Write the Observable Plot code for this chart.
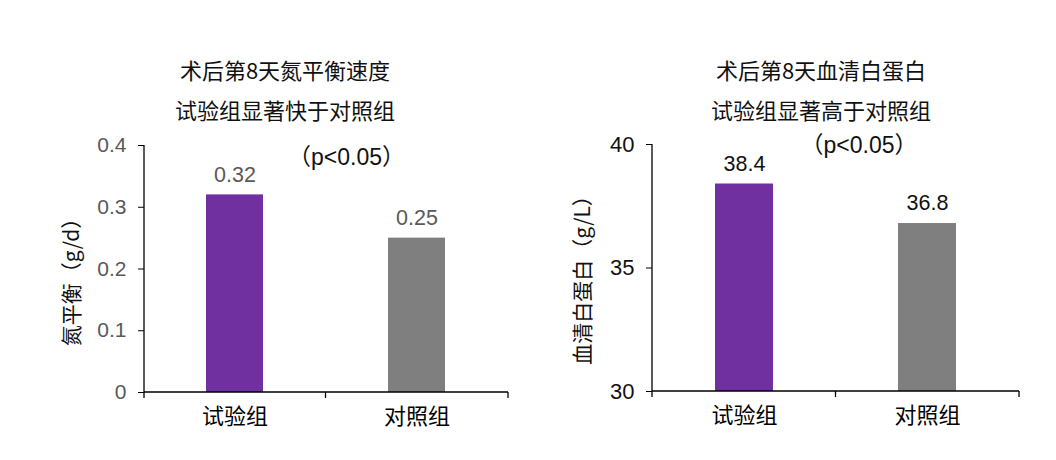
<!DOCTYPE html>
<html><head><meta charset="utf-8">
<script src="https://cdn.jsdelivr.net/npm/d3@7"></script>
<script src="https://cdn.jsdelivr.net/npm/@observablehq/plot@0.6"></script>
<style>
body{margin:0;background:#fff;font-family:"Liberation Sans","Noto Sans CJK SC",sans-serif;}
#wrap{position:relative;width:1056px;height:460px;overflow:hidden;background:#fff}
.panel{position:absolute;top:0;width:528px;height:460px}
.t{position:absolute;width:400px;text-align:center;font-size:22px;color:#111;line-height:1;transform:translateY(-50%);white-space:nowrap;font-family:"Noto Sans CJK SC","Liberation Sans",sans-serif;font-weight:400}
.chart{position:absolute;left:0;top:130px}
</style></head><body>
<div id="wrap"></div>
<script>
// ---- data ----
const groups = ["试验组", "对照组"];
const barColors = ["#7030A0", "#7F7F7F"];

const nitrogenTitle = ["术后第8天氮平衡速度", "试验组显著快于对照组"];
const nitrogenLabel = "氮平衡（g/d）";
const nitrogenValues = [0.32, 0.25];
const nitrogenTicks = [0, 0.1, 0.2, 0.3, 0.4];

const albuminTitle = ["术后第8天血清白蛋白", "试验组显著高于对照组"];
const albuminLabel = "血清白蛋白（g/L）";
const albuminValues = [38.4, 36.8];
const albuminTicks = [30, 35, 40];

const pNote = "（p<0.05）";

// ---- helpers ----
function axisLines() {
  return (index, scales, values, dims) => {
    const {x, y} = scales;
    const {width, marginLeft, marginRight, marginTop} = dims;
    const base = y(y.domain()[0]);
    const g = d3.create("svg:g").attr("stroke", "#000").attr("stroke-width", 1.3).attr("fill", "none");
    g.append("line").attr("x1", marginLeft).attr("x2", marginLeft).attr("y1", marginTop).attr("y2", base + 6);
    g.append("line").attr("x1", marginLeft).attr("x2", width - marginRight).attr("y1", base).attr("y2", base);
    const dom = x.domain();
    const bw = x.bandwidth();
    const bounds = [];
    for (let i = 1; i < dom.length; i++) bounds.push((x(dom[i - 1]) + bw + x(dom[i])) / 2);
    bounds.push(width - marginRight);
    for (const b of bounds) g.append("line").attr("x1", b).attr("x2", b).attr("y1", base).attr("y2", base + 6);
    return g.node();
  };
}

function makeChart(cfg) {
  const rows = groups.map((g, i) => ({group: g, value: cfg.values[i]}));
  const yMin = cfg.ticks[0], yMax = cfg.ticks[cfg.ticks.length - 1];
  return Plot.plot({
    width: 528,
    height: 330,
    marginLeft: cfg.ml,
    marginRight: cfg.mr,
    marginTop: cfg.mt,
    marginBottom: cfg.mb,
    style: {fontFamily: '"Liberation Sans","Noto Sans CJK SC",sans-serif', background: "transparent", overflow: "visible"},
    x: {domain: groups, paddingInner: 0.685, paddingOuter: 0.3425, label: null},
    y: {domain: [yMin, yMax], label: null},
    color: {domain: groups, range: barColors},
    marks: [
      Plot.barY(rows, {x: "group", y1: yMin, y2: "value", fill: "group"}),
      Plot.text(rows, {x: "group", y: "value", text: d => String(d.value), dy: -20, fontSize: 21.5, fill: cfg.valueColor}),
      Plot.axisY({ticks: cfg.ticks, tickFormat: d => String(d), tickSize: 6, tickPadding: 12, fontSize: cfg.tickSize, stroke: "#000", fill: cfg.tickColor, label: null}),
      Plot.axisX({tickSize: 0, tickPadding: 16, fontSize: 22, fill: "#000", label: null, fontFamily: '"Noto Sans CJK SC",sans-serif'}),
      Plot.text([cfg.label], {frameAnchor: "left", textAnchor: "middle", lineAnchor: "middle", text: d => d, rotate: -90, dx: cfg.ldx, dy: cfg.ldy, fontSize: 21, fill: "#111", fontFamily: '"Noto Sans CJK SC",sans-serif'}),
      Plot.text([pNote], {frameAnchor: "top", textAnchor: "middle", text: d => d, dx: cfg.pdx, dy: cfg.pdy, lineAnchor: "middle", fontSize: 23, fill: "#111"}),
      axisLines()
    ]
  });
}

const panels = [
  {left: 0, titleX: 285, title: nitrogenTitle, values: nitrogenValues, ticks: nitrogenTicks, label: nitrogenLabel, tickSize: 21,
   ml: 144, mr: 20, mt: 15, mb: 68, ldx: -72, ldy: 8, pdx: 20, pdy: 12, valueColor: "#595959", tickColor: "#595959"},
  {left: 528, titleX: 293, title: albuminTitle, values: albuminValues, ticks: albuminTicks, label: albuminLabel, tickSize: 22,
   ml: 124, mr: 37, mt: 14, mb: 69, ldx: -69, ldy: 7, pdx: 23, pdy: 1, valueColor: "#111", tickColor: "#111"}
];

const wrap = document.getElementById("wrap");
for (const p of panels) {
  const div = document.createElement("div");
  div.className = "panel";
  div.style.left = p.left + "px";
  p.title.forEach((t, i) => {
    const el = document.createElement("div");
    el.className = "t";
    el.textContent = t;
    el.style.left = (p.titleX - 200) + "px";
    el.style.top = (69 + i * 40) + "px";
    div.appendChild(el);
  });
  const chartDiv = document.createElement("div");
  chartDiv.className = "chart";
  chartDiv.appendChild(makeChart(p));
  div.appendChild(chartDiv);
  wrap.appendChild(div);
}
</script>
</body></html>
